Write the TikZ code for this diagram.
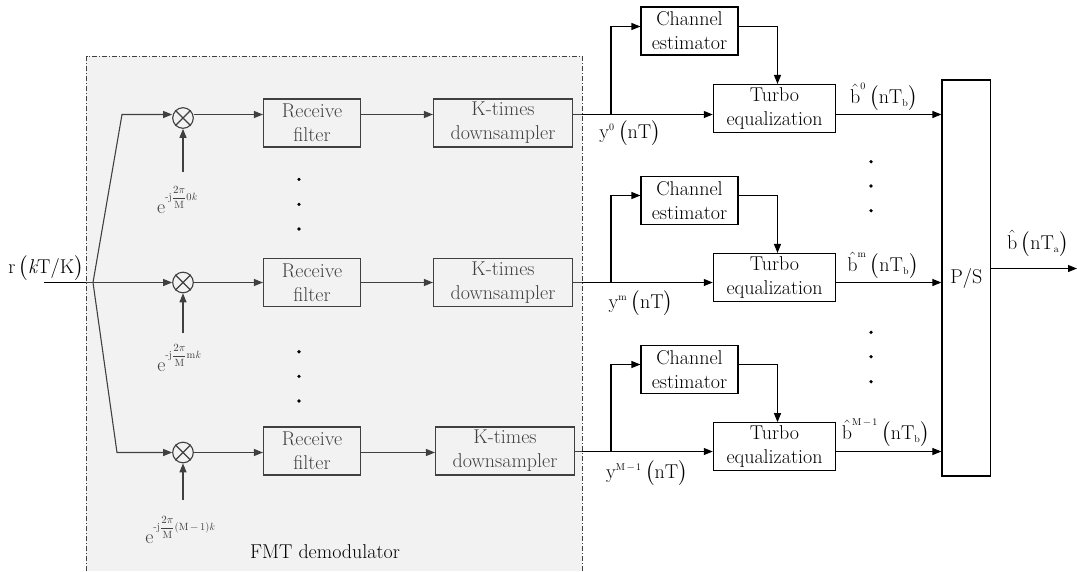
\documentclass[tikz,border=0pt]{standalone}
\usepackage{fontspec}
\usepackage{amsmath}
\usetikzlibrary{arrows.meta}
\definecolor{ov}{RGB}{212,212,212}
\newcommand{\sm}[1]{\mbox{\fontsize{10}{10}\selectfont #1}}
\newcommand{\expo}[1]{e\raisebox{13pt}{\fontsize{10.5}{12}\selectfont -j$\dfrac{2\pi}{\mbox{M}}$#1}}
\newcommand{\bh}{\hat{\mbox{b}}}
\begin{document}
\begin{tikzpicture}[x=1pt,y=-1pt,font=\fontsize{20}{24}\selectfont,
  line width=1.1pt,
  arr/.style={-{Triangle[length=9pt,width=7pt]}},
  blk/.style={draw,align=center,inner sep=0pt,minimum height=48pt},
  mult/.style={draw,circle,minimum size=20.6pt,inner sep=0pt},
  lab/.style={inner sep=0pt},
  dotm/.style={circle,fill,inner sep=0pt,minimum size=3.6pt}]
\useasboundingbox (0,0) rectangle (1077,571);

% multipliers
\node[mult] (m0) at (183,118) {};
\node[mult] (m1) at (183,282.5) {};
\node[mult] (m2) at (183,452.5) {};
\foreach \m in {m0,m1,m2}{
  \draw (\m.north west) -- (\m.south east) (\m.north east) -- (\m.south west);}

% receive filters and downsamplers
\node[blk,minimum width=97pt] (rf0) at (312,123) {Receive\\filter};
\node[blk,minimum width=97pt] (rf1) at (312,282.5) {Receive\\filter};
\node[blk,minimum width=97pt] (rf2) at (312,451) {Receive\\filter};
\node[blk,minimum width=139pt] (ds0) at (503,123) {K-times\\downsampler};
\node[blk,minimum width=139pt] (ds1) at (503,282.5) {K-times\\downsampler};
\node[blk,minimum width=139pt] (ds2) at (505,451) {K-times\\downsampler};

% input
\node[lab] (rlab) at (46,268) {r\,$\bigl(\mbox{\itshape k}\mbox{T/K}\bigr)$};
\coordinate (rin) at (44,282.5);
\coordinate (br) at (93,282.5);
\coordinate (k0) at (122,114.5);
\coordinate (k2) at (117,452.5);
\draw (rin) -- (br);
\draw[arr] (br) -- (k0) -- (m0.west |- k0);
\draw[arr] (br) -- (m1.west);
\draw[arr] (br) -- (k2) -- (m2.west);

\draw[arr] (m0.east |- k0) -- (rf0.west |- k0);
\draw[arr] (m1.east) -- (rf1.west);
\draw[arr] (m2.east) -- (rf2.west |- m2);
\draw[arr] (rf0.east |- k0) -- (ds0.west |- k0);
\draw[arr] (rf1.east |- m1) -- (ds1.west |- m1);
\draw[arr] (rf2.east |- m2) -- (ds2.west |- m2);

% exponentials
\coordinate (s0) at (183,172);
\coordinate (s1) at (183,333);
\coordinate (s2) at (183,500);
\draw[arr] (s0) -- (m0.south);
\draw[arr] (s1) -- (m1.south);
\draw[arr] (s2) -- (m2.south);
\node[lab] (e0) at (177,200) {\expo{0\textit{k}}};
\node[lab] (e1) at (179,358) {\expo{m\textit{k}}};
\node[lab] (e2) at (180,530) {\expo{(M\,\textminus\,1)\textit{k}}};

% channel estimators, turbo equalizers, P/S
\node[blk,minimum width=97pt] (ce0) at (689.5,31) {Channel\\estimator};
\node[blk,minimum width=97pt] (ce1) at (689.5,200.5) {Channel\\estimator};
\node[blk,minimum width=97pt] (ce2) at (689.5,369.5) {Channel\\estimator};
\node[blk,minimum width=122.4pt] (tb0) at (774.5,108.5) {Turbo\\equalization};
\node[blk,minimum width=122.4pt] (tb1) at (774.5,277.5) {Turbo\\equalization};
\node[blk,minimum width=122.4pt] (tb2) at (774.5,446.7) {Turbo\\equalization};
\node[draw,minimum width=48.7pt,minimum height=396pt,inner sep=0pt] (ps) at (966.3,278) {P/S};

\coordinate (b0) at (611,114.5);
\coordinate (b1) at (611,282.5);
\coordinate (b2) at (611,451.5);
\coordinate (a0) at (611,26.5);
\coordinate (a1) at (611,195.5);
\coordinate (a2) at (611,364.5);
\coordinate (d0) at (777.5,26.5);
\coordinate (d1) at (777.5,195.5);
\coordinate (d2) at (777.5,364.5);

\draw[arr] (ds0.east |- b0) -- (tb0.west |- b0);
\draw[arr] (ds1.east |- b1) -- (tb1.west |- b1);
\draw[arr] (ds2.east |- b2) -- (tb2.west |- b2);
\draw[arr] (b0) -- (a0) -- (ce0.west |- a0);
\draw[arr] (b1) -- (a1) -- (ce1.west |- a1);
\draw[arr] (b2) -- (a2) -- (ce2.west |- a2);
\draw[arr] (ce0.east |- a0) -- (d0) -- (d0 |- tb0.north);
\draw[arr] (ce1.east |- a1) -- (d1) -- (d1 |- tb1.north);
\draw[arr] (ce2.east |- a2) -- (d2) -- (d2 |- tb2.north);
\draw[arr] (tb0.east |- b0) -- (ps.west |- b0);
\draw[arr] (tb1.east |- b1) -- (ps.west |- b1);
\draw[arr] (tb2.east |- b2) -- (ps.west |- b2);
\coordinate (out) at (1077,268.5);
\draw[arr] (ps.east |- out) -- (out);

% FMT overlay and border
\fill[ov,fill opacity=0.3] (86,56) rectangle (582,571);
\draw[black!75,line width=0.8pt,dash pattern=on 5pt off 2pt on 1pt off 2pt]
  (86.5,571) -- (86.5,56.5) -- (582.5,56.5) -- (582.5,571);
\node[lab] (fmt) at (325,552) {FMT demodulator};

% dots
\foreach \y in {179.3,204.3,229,351.7,376.3,401}{\node[dotm] at (299,\y) {};}
\foreach \y in {161.7,186,210.7,332.3,356.7,381.7}{\node[dotm] at (871,\y) {};}

% labels
\node[lab] (ly0) at (630,133) {$\mbox{y}^{\sm{0}}\,\bigl(\mbox{nT}\bigr)$};
\node[lab] (ly1) at (641,303) {$\mbox{y}^{\sm{m}}\,\bigl(\mbox{nT}\bigr)$};
\node[lab] (ly2) at (647,473) {$\mbox{y}^{\sm{M\,\textminus\,1}}\,\bigl(\mbox{nT}\bigr)$};
\node[lab] (lb0) at (884,97) {$\bh^{\sm{0}}\,\bigl(\mbox{nT}_{\sm{b}}\bigr)$};
\node[lab] (lb1) at (883,265) {$\bh^{\sm{m}}\,\bigl(\mbox{nT}_{\sm{b}}\bigr)$};
\node[lab] (lb2) at (886,433) {$\bh^{\sm{M\,\textminus\,1}}\,\bigl(\mbox{nT}_{\sm{b}}\bigr)$};
\node[lab] (lout) at (1038,243) {$\bh\,\bigl(\mbox{nT}_{\sm{a}}\bigr)$};
\end{tikzpicture}
\end{document}
